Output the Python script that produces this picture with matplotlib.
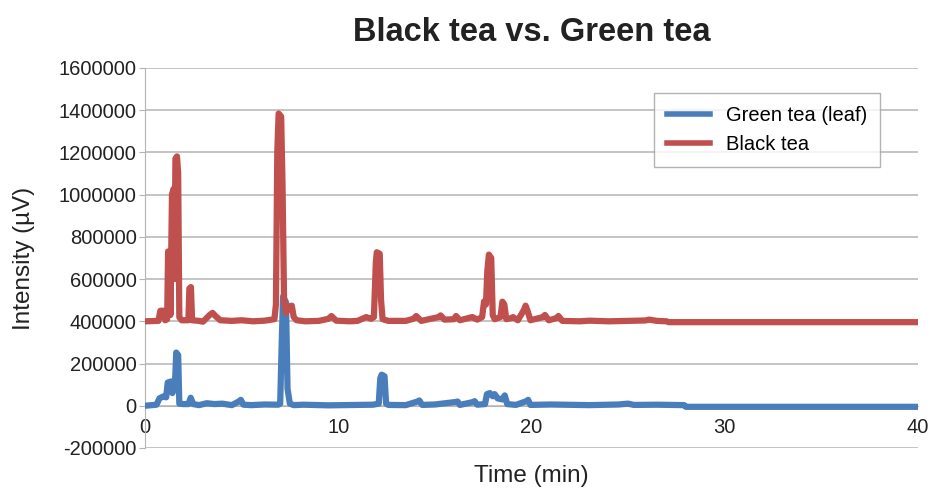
#!/usr/bin/env python3
import matplotlib

matplotlib.use("Agg")
import matplotlib.pyplot as plt
from matplotlib.ticker import FuncFormatter, MultipleLocator

# Chromatogram traces (time in min, intensity in uV)
black_time = [
    0, 0.7, 0.8, 0.95, 1.05, 1.15, 1.2, 1.27, 1.32, 1.4, 1.48, 1.52, 1.58,
    1.66, 1.72, 1.78, 1.9, 2.25, 2.3, 2.38, 2.44, 2.8, 3.0, 3.35, 3.5, 3.65,
    3.9, 4.5, 5.0, 5.6, 6.2, 6.7, 6.78, 6.85, 6.92, 7.05, 7.12, 7.2, 7.3,
    7.45, 7.6, 7.7, 7.85, 8.3, 9.0, 9.5, 9.65, 9.9, 10.6, 11.0, 11.45, 11.7,
    11.85, 11.95, 12.0, 12.15, 12.22, 12.3, 12.6, 13.5, 13.9, 14.04, 14.3,
    15.2, 15.3, 15.5, 16.0, 16.1, 16.3, 16.85, 16.95, 17.2, 17.45, 17.55,
    17.65, 17.72, 17.8, 17.92, 18.0, 18.1, 18.4, 18.5, 18.6, 18.7, 18.95,
    19.05, 19.3, 19.62, 19.7, 19.8, 19.95, 20.6, 20.7, 20.9, 21.3, 21.4,
    21.6, 22.5, 23.0, 24.0, 25.0, 25.9, 26.1, 26.5, 27.0, 27.1, 40,
]
black_intensity = [
    400000, 402000, 450000, 450000, 405000, 410000, 731000, 731000, 430000,
    1000000, 1027000, 600000, 1170000, 1181000, 1100000, 420000, 405000,
    405000, 555000, 562000, 405000, 402000, 398000, 430000, 440000, 425000,
    405000, 402000, 405000, 400000, 403000, 410000, 480000, 1200000,
    1384000, 1370000, 1050000, 500000, 440000, 470000, 474000, 420000,
    405000, 400000, 402000, 412000, 425000, 403000, 400000, 402000, 420000,
    412000, 420000, 680000, 727000, 720000, 500000, 410000, 402000, 402000,
    412000, 425000, 402000, 420000, 428000, 408000, 410000, 425000, 405000,
    418000, 420000, 408000, 420000, 494000, 480000, 640000, 716000, 700000,
    430000, 410000, 420000, 493000, 480000, 410000, 415000, 420000, 405000,
    455000, 474000, 450000, 405000, 420000, 430000, 405000, 415000, 425000,
    402000, 400000, 403000, 400000, 402000, 404000, 408000, 402000, 400000,
    396000, 396000,
]

green_time = [
    0, 0.6, 0.75, 0.95, 1.1, 1.18, 1.35, 1.42, 1.55, 1.62, 1.72, 1.78, 2.0,
    2.25, 2.37, 2.5, 2.8, 3.2, 3.6, 4.0, 4.5, 4.85, 4.96, 5.1, 5.5, 6.2,
    6.9, 7.0, 7.08, 7.15, 7.3, 7.38, 7.5, 7.7, 8.2, 9.5, 11.0, 11.8, 12.1,
    12.18, 12.25, 12.4, 12.48, 12.6, 13.5, 14.1, 14.2, 14.35, 15.0, 16.1,
    16.18, 16.3, 17.0, 17.06, 17.2, 17.6, 17.7, 17.85, 18.0, 18.1, 18.25,
    18.5, 18.62, 18.75, 19.2, 19.75, 19.83, 19.95, 21.0, 23.0, 24.5, 25.0,
    25.3, 26.5, 27.9, 28.0, 40,
]
green_intensity = [
    0, 5000, 35000, 44000, 40000, 110000, 115000, 60000, 90000, 252000,
    240000, 10000, 8000, 8000, 38000, 8000, 3000, 12000, 8000, 10000, 3000,
    20000, 28000, 5000, 3000, 6000, 5000, 10000, 300000, 518000, 490000,
    80000, 10000, 3000, 5000, 2000, 4000, 5000, 10000, 130000, 147000,
    140000, 10000, 4000, 3000, 20000, 25000, 4000, 6000, 18000, 20000, 4000,
    18000, 22000, 5000, 8000, 55000, 60000, 45000, 55000, 35000, 30000,
    49000, 8000, 4000, 22000, 28000, 4000, 6000, 3000, 6000, 10000, 4000,
    5000, 3000, -5000, -5000,
]

series_labels = ["Green tea (leaf)", "Black tea"]
series_colors = ["#4a7ebb", "#c0504d"]

plt.rcParams["font.family"] = ["Liberation Sans", "DejaVu Sans"]
plt.rcParams["axes.unicode_minus"] = False

fig = plt.figure(figsize=(9.29, 4.91), dpi=100)
ax = fig.add_axes([0.156, 0.0876, 0.832, 0.774])

ax.plot(green_time, green_intensity, color=series_colors[0], lw=4.5,
        label=series_labels[0], solid_joinstyle="round", zorder=3)
ax.plot(black_time, black_intensity, color=series_colors[1], lw=4.5,
        label=series_labels[1], solid_joinstyle="round", zorder=4)

ax.set_xlim(0, 40)
ax.set_ylim(-200000, 1600000)
ax.xaxis.set_major_locator(MultipleLocator(10))
ax.yaxis.set_major_locator(MultipleLocator(200000))
ax.yaxis.set_major_formatter(FuncFormatter(lambda v, _: f"{v:.0f}"))

ax.grid(axis="y", color="#b4b4b4", lw=1.1)
ax.set_axisbelow(True)
for side in ("top", "right"):
    ax.spines[side].set_visible(False)
ax.spines["left"].set_color("#b4b4b4")
ax.spines["bottom"].set_color("#b4b4b4")
ax.spines["bottom"].set_position(("data", 0))

ax.tick_params(axis="y", labelsize=14.5, colors="#222222", length=4,
               color="#b4b4b4", pad=2)
ax.tick_params(axis="x", labelsize=14.5, colors="#222222", length=0, pad=9)

ax.set_xlabel("Time (min)", fontsize=17.5, color="#222222")
ax.xaxis.set_label_coords(0.5, -0.045)
ax.set_ylabel("Intensity (µV)", fontsize=17.5, color="#222222")
ax.yaxis.set_label_coords(-0.142, 0.5)

fig.suptitle("Black tea vs. Green tea", fontsize=23.5, fontweight="bold",
             color="#222222", x=0.572, y=0.965)

legend = ax.legend(loc="upper right", bbox_to_anchor=(0.951, 0.934),
                   borderaxespad=0, fontsize=14.5, frameon=True,
                   fancybox=False, edgecolor="#a0a0a0", handlelength=2.1,
                   borderpad=0.65, labelspacing=0.5)
legend.get_frame().set_linewidth(1.0)
for line in legend.get_lines():
    line.set_linewidth(4)

fig.savefig("out.png", dpi=100)
plt.close(fig)
